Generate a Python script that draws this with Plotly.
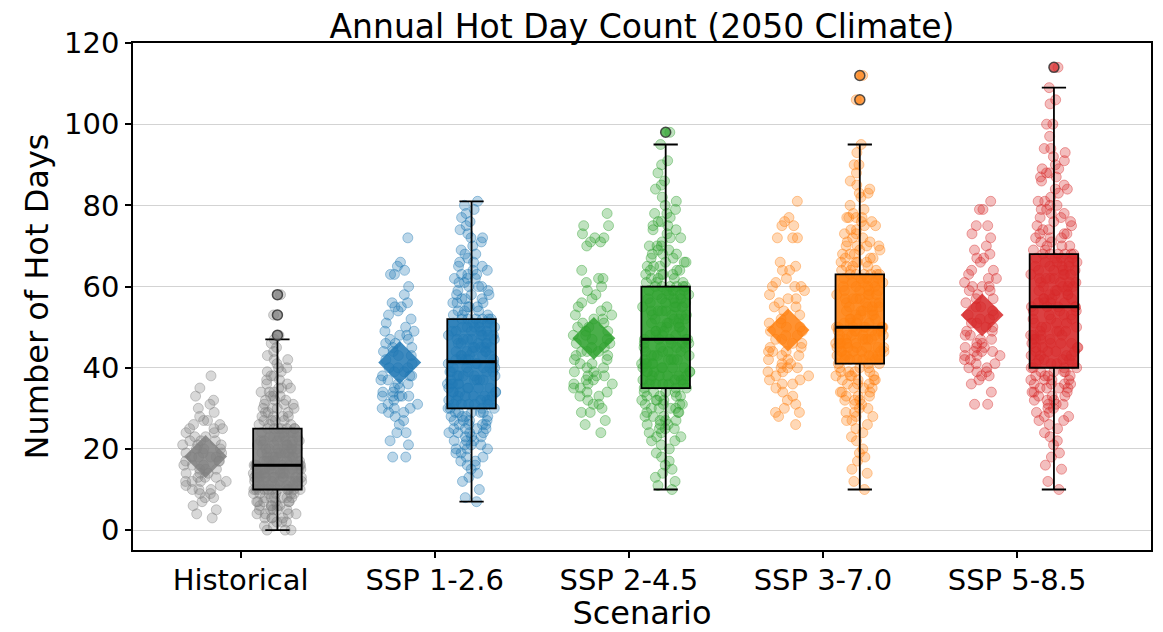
import numpy as np
import plotly.graph_objects as go

# ---------------- data ----------------
scenarios = ["Historical", "SSP 1-2.6", "SSP 2-4.5", "SSP 3-7.0", "SSP 5-8.5"]
colors = ["#7f7f7f", "#1f77b4", "#2ca02c", "#ff7f0e", "#d62728"]

# left clusters: sample of annual hot-day counts
hist_sample = [3, 4, 5, 6, 7, 8, 8, 9, 9, 10, 10, 10, 11, 11, 12, 12, 12, 12, 13, 13,
               13, 14, 14, 14, 15, 15, 15, 16, 16, 16, 17, 17, 17, 18, 18, 18, 18, 19, 19, 19,
               20, 20, 20, 21, 21, 21, 22, 22, 22, 23, 23, 24, 24, 25, 25, 25, 26, 26, 27, 27,
               28, 29, 30, 31, 32, 33, 35, 38]
ssp126_sample = [72, 66, 65, 64, 63, 63, 60, 58, 56, 56, 55, 55, 54, 53, 52, 51, 50, 49, 49, 48,
                 48, 47, 47, 46, 46, 45, 45, 44, 44, 43, 43, 42, 41, 40, 40, 40, 39, 39, 38, 38,
                 38, 37, 37, 36, 36, 35, 35, 34, 34, 33, 33, 33, 33, 33, 32, 31, 31, 30, 30, 30,
                 29, 29, 28, 27, 26, 24, 24, 22, 21, 18, 18]
ssp245_sample = [78, 75, 75, 73, 72, 72, 71, 71, 70, 64, 62, 62, 61, 60, 59, 58, 57, 56, 55, 55,
                 54, 53, 53, 52, 52, 51, 51, 50, 50, 49, 49, 48, 48, 47, 47, 46, 46, 45, 45, 44,
                 44, 44, 43, 43, 42, 42, 41, 41, 40, 40, 39, 39, 38, 38, 38, 37, 37, 36, 36, 36,
                 35, 35, 34, 34, 33, 33, 32, 31, 31, 30, 29, 29, 27, 26, 24]
ssp370_sample = [81, 77, 76, 75, 75, 72, 72, 72, 66, 65, 64, 64, 62, 61, 60, 60, 60, 59, 58, 57,
                 57, 56, 55, 55, 54, 53, 52, 51, 51, 50, 50, 49, 49, 48, 48, 47, 47, 46, 46, 45,
                 45, 44, 44, 44, 43, 43, 42, 42, 41, 41, 40, 40, 40, 39, 39, 38, 38, 37, 37, 36,
                 36, 35, 34, 33, 32, 31, 30, 29, 29, 28, 26]
ssp585_sample = [81, 79, 79, 75, 75, 73, 72, 70, 69, 68, 67, 67, 66, 64, 64, 63, 62, 62, 61, 60,
                 60, 60, 59, 59, 58, 57, 57, 56, 55, 55, 54, 53, 53, 52, 52, 51, 51, 50, 50, 49,
                 49, 48, 48, 47, 47, 46, 46, 45, 45, 45, 44, 44, 44, 43, 43, 43, 42, 42, 41, 41,
                 40, 40, 39, 39, 38, 38, 37, 36, 34, 31, 31]

# right boxes: full ensemble of annual hot-day counts
hist_ensemble = [0, 0, 0, 1, 1, 2, 2, 2, 3, 3, 3, 3, 4, 4, 4, 4, 5, 5, 5, 5,
                 5, 6, 6, 6, 6, 6, 7, 7, 7, 7, 7, 7, 8, 8, 8, 8, 8, 8, 9, 9,
                 9, 9, 9, 9, 10, 10, 10, 10, 10, 10, 10, 10, 10, 10, 10, 10,
                 11, 11, 11, 11, 11, 11, 11, 11, 12, 12, 12, 12, 12, 12, 12, 12, 12,
                 13, 13, 13, 13, 13, 13, 13, 13, 13, 14, 14, 14, 14, 14, 14, 14, 14, 14,
                 15, 15, 15, 15, 15, 15, 15, 15, 15, 16, 16, 16, 16, 16, 16, 16, 16, 16, 16, 16,
                 17, 17, 17, 17, 17, 17, 18, 18, 18, 18, 18, 18, 18, 19, 19, 19, 19, 19, 19, 19,
                 20, 20, 20, 20, 20, 20, 20, 21, 21, 21, 21, 21, 21, 22, 22, 22, 22, 22, 22,
                 23, 23, 23, 23, 23, 24, 24, 24, 24, 25, 25, 25, 25, 25, 25,
                 25, 26, 26, 26, 27, 27, 27, 27, 28, 28, 28, 28, 29, 29, 29, 30, 30, 30, 30,
                 31, 31, 31, 32, 32, 32, 33, 33, 33, 34, 34, 34, 35, 35, 35, 36, 36, 37, 37,
                 38, 38, 39, 39, 40, 40, 41, 42, 42, 43, 44, 45, 46, 47, 48, 53, 58]
ssp126_ensemble = [7, 8, 10, 12, 13, 14, 15, 16, 16, 17, 17, 18, 18, 19, 19, 20, 20, 20, 21, 21,
                   21, 22, 22, 22, 23, 23, 23, 24, 24, 24, 24, 25, 25, 25, 25, 26, 26, 26, 26, 27,
                   27, 27, 27, 28, 28, 28, 28, 29, 29, 29, 29, 29, 30, 30, 30, 30,
                   31, 31, 31, 31, 31, 32, 32, 32, 32, 32, 33, 33, 33, 33, 33, 34, 34, 34, 34, 34,
                   35, 35, 35, 35, 35, 36, 36, 36, 36, 36, 37, 37, 37, 37, 37, 38, 38, 38, 38, 38,
                   39, 39, 39, 39, 39, 40, 40, 40, 40, 40, 41, 41, 41, 41,
                   42, 42, 42, 42, 42, 43, 43, 43, 43, 43, 44, 44, 44, 44, 44, 45, 45, 45, 45, 45,
                   46, 46, 46, 46, 46, 47, 47, 47, 47, 47, 48, 48, 48, 48, 48, 49, 49, 49, 49, 49,
                   50, 50, 50, 50, 50, 51, 51, 51, 51, 51, 52, 52, 52, 52, 52,
                   52, 53, 53, 53, 54, 54, 54, 55, 55, 55, 56, 56, 56, 57, 57, 57, 58, 58, 58, 59,
                   59, 60, 60, 60, 61, 61, 62, 62, 62, 63, 63, 63, 64, 64, 65, 65, 66, 66, 67, 68,
                   68, 69, 70, 71, 72, 72, 73, 74, 75, 76, 77, 78, 79, 80, 81]
ssp245_ensemble = [10, 11, 12, 13, 14, 15, 16, 17, 18, 19, 20, 21, 22, 22, 23, 23, 24, 24, 25, 25,
                   25, 26, 26, 26, 27, 27, 27, 28, 28, 28, 29, 29, 29, 30, 30, 30, 30, 31, 31, 31,
                   31, 32, 32, 32, 32, 33, 33, 33, 33, 34, 34, 34, 34, 35, 35, 35,
                   36, 36, 36, 36, 36, 37, 37, 37, 37, 37, 38, 38, 38, 38, 38, 39, 39, 39, 39, 39,
                   40, 40, 40, 40, 40, 41, 41, 41, 41, 41, 42, 42, 42, 42, 42, 43, 43, 43, 43,
                   44, 44, 44, 44, 45, 45, 45, 45, 46, 46, 46, 46, 47, 47, 47,
                   47, 47, 48, 48, 48, 48, 49, 49, 49, 49, 50, 50, 50, 50, 51, 51, 51, 51,
                   52, 52, 52, 52, 53, 53, 53, 53, 54, 54, 54, 54, 55, 55, 55, 55, 56, 56, 56, 56,
                   57, 57, 57, 57, 58, 58, 58, 58, 59, 59, 59, 59, 60, 60, 60, 60, 60,
                   60, 61, 61, 61, 62, 62, 62, 63, 63, 63, 63, 64, 64, 64, 65, 65, 65, 66, 66, 66,
                   67, 67, 68, 68, 68, 69, 69, 70, 70, 70, 71, 72, 72, 73, 74, 74, 75, 75, 76, 76,
                   77, 78, 78, 79, 80, 81, 82, 84, 85, 86, 88, 90, 91, 95, 98]
ssp370_ensemble = [10, 12, 14, 15, 17, 18, 19, 20, 22, 23, 24, 25, 26, 27, 27, 28, 28, 29, 29, 30,
                   30, 31, 31, 32, 32, 32, 33, 33, 33, 34, 34, 34, 35, 35, 35, 36, 36, 36, 37, 37,
                   37, 37, 38, 38, 38, 38, 39, 39, 39, 39, 40, 40, 40, 41, 41, 41,
                   42, 42, 42, 42, 42, 42, 43, 43, 43, 43, 43, 43, 44, 44, 44, 44, 44, 44,
                   45, 45, 45, 45, 45, 45, 46, 46, 46, 46, 46, 46, 47, 47, 47, 47, 47, 47,
                   48, 48, 48, 48, 48, 48, 49, 49, 49, 49, 49, 49, 50, 50, 50, 50, 50, 50,
                   50, 50, 51, 51, 51, 51, 52, 52, 52, 52, 53, 53, 53, 53, 54, 54, 54, 54,
                   55, 55, 55, 55, 56, 56, 56, 56, 57, 57, 57, 57, 58, 58, 58, 58, 59, 59, 59, 59,
                   60, 60, 60, 60, 61, 61, 61, 61, 62, 62, 62, 62, 63, 63, 63, 63, 63,
                   63, 64, 64, 64, 65, 65, 65, 66, 66, 66, 66, 67, 67, 67, 68, 68, 68, 69, 69,
                   70, 70, 70, 70, 71, 71, 72, 72, 73, 73, 74, 74, 75, 75, 76, 76, 77, 77, 77, 77,
                   78, 79, 80, 82, 83, 83, 84, 85, 86, 88, 90, 90, 93, 95, 106, 112]
ssp585_ensemble = [10, 12, 15, 16, 18, 19, 21, 22, 23, 24, 25, 26, 27, 27, 28, 28, 29, 29, 30, 30,
                   31, 31, 31, 32, 32, 32, 33, 33, 33, 34, 34, 34, 35, 35, 35, 35, 36, 36, 36, 36,
                   37, 37, 37, 37, 38, 38, 38, 38, 39, 39, 39, 39, 40, 40, 40, 40,
                   41, 41, 41, 41, 42, 42, 42, 42, 43, 43, 43, 43, 44, 44, 44, 44, 45, 45, 45, 45,
                   46, 46, 46, 46, 47, 47, 47, 47, 48, 48, 48, 48, 49, 49, 49, 49, 50, 50, 50,
                   51, 51, 51, 52, 52, 52, 53, 53, 53, 54, 54, 54, 55, 55, 55,
                   55, 55, 56, 56, 56, 56, 57, 57, 57, 57, 58, 58, 58, 58, 59, 59, 59, 59,
                   60, 60, 60, 60, 61, 61, 61, 61, 62, 62, 62, 62, 63, 63, 63, 63, 64, 64, 64, 64,
                   65, 65, 65, 65, 66, 66, 66, 66, 67, 67, 67, 67, 68, 68, 68, 68, 68,
                   68, 69, 69, 70, 70, 70, 71, 71, 72, 72, 72, 73, 73, 73, 74, 74, 75, 75, 76, 76,
                   77, 77, 78, 78, 79, 79, 80, 80, 81, 81, 82, 83, 84, 84, 85, 86, 87, 87, 88, 88,
                   89, 89, 90, 91, 92, 93, 94, 94, 97, 100, 100, 105, 106, 109, 114]

samples = [hist_sample, ssp126_sample, ssp245_sample, ssp370_sample, ssp585_sample]
ensembles = [hist_ensemble, ssp126_ensemble, ssp245_ensemble, ssp370_ensemble, ssp585_ensemble]
y_ticks = [0, 20, 40, 60, 80, 100, 120]

# ---------------- styling ----------------
FONT = "DejaVu Sans"
LEFT_OFF, RIGHT_OFF = -0.18, 0.19
BOX_W = 0.25


def rgba(hex_color, a):
    h = hex_color.lstrip("#")
    r, g, b = int(h[0:2], 16), int(h[2:4], 16), int(h[4:6], 16)
    return f"rgba({r},{g},{b},{a})"


fig = go.Figure()
for i, (name, col, samp, ens) in enumerate(zip(scenarios, colors, samples, ensembles)):
    xl = i + LEFT_OFF
    xr = i + RIGHT_OFF
    pt_marker = dict(size=10, color=rgba(col, 0.30), line=dict(width=1, color=rgba(col, 0.40)))
    # left jittered sample
    fig.add_trace(go.Box(
        y=samp, x0=xl, name=name, boxpoints="all", jitter=1.0, pointpos=0, width=0.24,
        line=dict(width=0, color="rgba(0,0,0,0)"), fillcolor="rgba(0,0,0,0)",
        marker=pt_marker, hoverinfo="skip", showlegend=False))
    # mean diamond
    fig.add_trace(go.Scatter(
        x=[xl], y=[float(np.mean(samp))], mode="markers",
        marker=dict(symbol="diamond", size=33, color=rgba(col, 0.85), line=dict(width=0)),
        hoverinfo="skip", showlegend=False))
    # right jittered ensemble points
    fig.add_trace(go.Box(
        y=ens, x0=xr, name=name, boxpoints="all", jitter=1.0, pointpos=0, width=BOX_W,
        line=dict(width=0, color="rgba(0,0,0,0)"), fillcolor="rgba(0,0,0,0)",
        marker=pt_marker, hoverinfo="skip", showlegend=False))
    # box with whiskers and fliers
    fig.add_trace(go.Box(
        y=ens, x0=xr, name=name, boxpoints="outliers", jitter=0, pointpos=0, width=BOX_W,
        whiskerwidth=0.5, line=dict(width=1.8, color="black"), fillcolor=rgba(col, 0.88),
        marker=dict(size=10, color=rgba(col, 0.75), line=dict(width=1.5, color="rgba(50,50,50,0.85)")),
        hoverinfo="skip", showlegend=False))
    # thicker median line
    med = float(np.median(ens))
    fig.add_trace(go.Scatter(
        x=[xr - BOX_W / 2, xr + BOX_W / 2], y=[med, med], mode="lines",
        line=dict(color="black", width=3), hoverinfo="skip", showlegend=False))

fig.update_layout(
    width=1163, height=632,
    margin=dict(l=133, r=10, t=43, b=82),
    paper_bgcolor="white", plot_bgcolor="white",
    boxmode="overlay",
    font=dict(family=FONT, color="black"),
    title=dict(text="Annual Hot Day Count (2050 Climate)", x=0.5, xref="paper", xanchor="center",
               y=1, yref="paper", yanchor="bottom", pad=dict(b=5),
               font=dict(family=FONT, size=33, color="black")),
    showlegend=False,
)
fig.update_xaxes(
    range=[-0.554, 4.69], tickmode="array", tickvals=list(range(len(scenarios))), ticktext=scenarios,
    tickfont=dict(family=FONT, size=29, color="black"), ticks="outside", ticklen=6, tickwidth=1.5,
    tickcolor="black", showline=True, linecolor="black", linewidth=1.6, mirror=True, showgrid=False,
    ticklabelstandoff=-3,
    zeroline=False, title=dict(text="Scenario", font=dict(family=FONT, size=32, color="black"), standoff=0),
)
fig.update_yaxes(
    range=[-4.9, 120], tickmode="array", tickvals=y_ticks,
    tickfont=dict(family=FONT, size=29, color="black"), ticks="outside", ticklen=6, tickwidth=1.5,
    tickcolor="black", showline=True, linecolor="black", linewidth=1.6, mirror=True, showgrid=True,
    gridcolor="#d3d3d3", gridwidth=1, zeroline=False,
    title=dict(text="Number of Hot Days", font=dict(family=FONT, size=32, color="black"), standoff=6),
)

fig.write_html("out.html")
